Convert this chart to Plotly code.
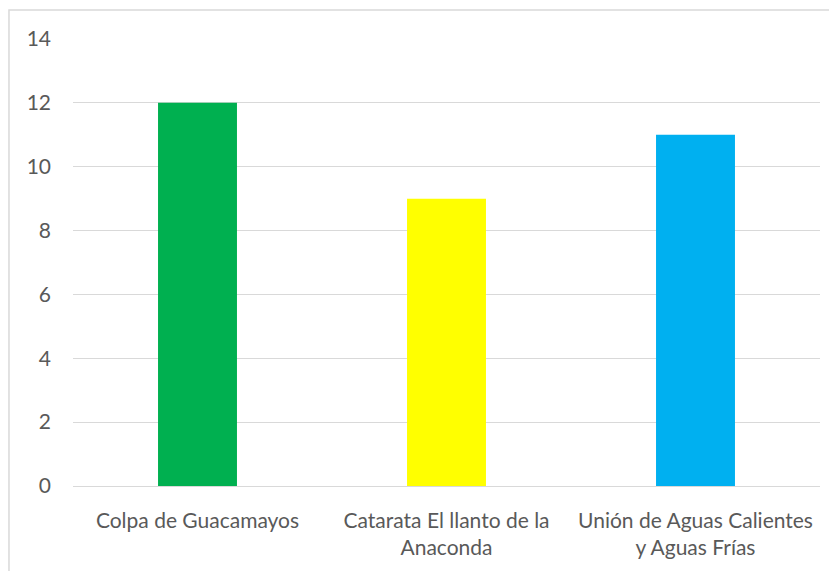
import plotly.graph_objects as go

categories = ["Colpa de Guacamayos", "Catarata El llanto de la<br>Anaconda", "Unión de Aguas Calientes<br>y Aguas Frías"]
values = [12, 9, 11]
colors = ["#00B050", "#FFFF00", "#00B0F0"]
y_ticks = [0, 2, 4, 6, 8, 10, 12, 14]

fig = go.Figure(go.Bar(x=categories, y=values, marker_color=colors, marker_line_width=0, width=0.317))

font = dict(family="Lato, Carlito, Calibri, sans-serif", size=21, color="#595959")
fig.update_layout(
    width=829, height=563,
    margin=dict(l=65, r=17, t=31, b=85, autoexpand=False),
    paper_bgcolor="white", plot_bgcolor="white",
    showlegend=False,
    font=font,
    xaxis=dict(showgrid=False, showline=False, ticks="", tickfont=font, ticklabelstandoff=20, tickangle=0,
               automargin=False),
    yaxis=dict(range=[0, 14], tickvals=y_ticks, showgrid=True, gridcolor="#D9D9D9", gridwidth=1,
               zeroline=True, zerolinecolor="#D9D9D9", zerolinewidth=1, showline=False,
               tickfont=font, ticklabelstandoff=21, automargin=False),
    shapes=[dict(type="rect", xref="paper", yref="paper", x0=-0.0857, x1=1.3, y0=-0.4, y1=1.0649,
                 line=dict(color="#D9D9D9", width=1.5), fillcolor="rgba(0,0,0,0)", layer="below")],
)
fig.write_html("out.html")
